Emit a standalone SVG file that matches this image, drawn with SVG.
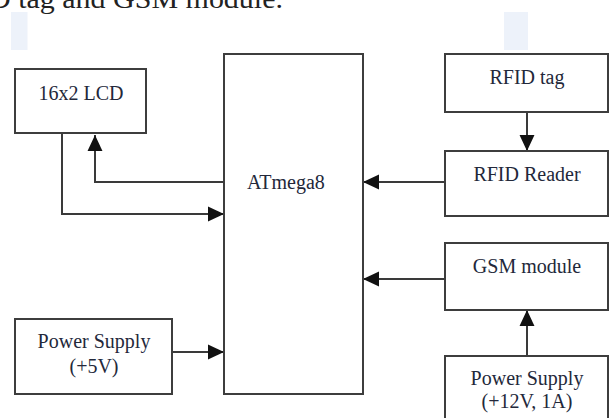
<svg xmlns="http://www.w3.org/2000/svg" width="614" height="418" viewBox="0 0 614 418">
<style>
.box{fill:#fff;stroke:#3d3d3d;stroke-width:2}
.lbl{font-family:"Liberation Serif","Times New Roman",serif;font-size:20px;fill:#23283a;text-anchor:middle}
.con{fill:none;stroke:#3a3a3a;stroke-width:2}
.hl{fill:#edf2fa}
</style>
<defs>
<marker id="ah" markerUnits="userSpaceOnUse" markerWidth="16" markerHeight="16" viewBox="0 0 15 14" refX="15" refY="7" orient="auto">
<path d="M0,0 L15,7 L0,14 z" fill="#111"/>
</marker>
</defs>
<rect width="614" height="418" fill="#fff"/>
<text x="-11" y="8" font-family="Liberation Serif, serif" font-size="27" fill="#222" textLength="294" lengthAdjust="spacingAndGlyphs">D tag and GSM module.</text>
<rect class="hl" x="11" y="12" width="16.5" height="38"/>
<rect class="hl" x="504" y="12" width="24" height="38"/>
<g id="connectors">
<path class="con" d="M224 182 H95 V135" marker-end="url(#ah)"/>
<path class="con" d="M62 133 V214 H224" marker-end="url(#ah)"/>
<path class="con" d="M445 182 H363" marker-end="url(#ah)"/>
<path class="con" d="M527 112 V151" marker-end="url(#ah)"/>
<path class="con" d="M445 279 H363" marker-end="url(#ah)"/>
<path class="con" d="M527 356 V310" marker-end="url(#ah)"/>
<path class="con" d="M172 352 H224" marker-end="url(#ah)"/>
</g>
<g id="lcd"><rect class="box" x="15" y="69" width="131" height="64"/><text class="lbl" x="81" y="100">16x2 LCD</text></g>
<g id="atmega"><rect class="box" x="224" y="54" width="139" height="340"/><text class="lbl" x="286" y="189">ATmega8</text></g>
<g id="rfid-tag"><rect class="box" x="445" y="54" width="163" height="58"/><text class="lbl" x="527" y="84">RFID tag</text></g>
<g id="rfid-reader"><rect class="box" x="445" y="151" width="163" height="65"/><text class="lbl" x="527" y="181">RFID Reader</text></g>
<g id="gsm"><rect class="box" x="445" y="243" width="163" height="67"/><text class="lbl" x="527" y="273">GSM module</text></g>
<g id="ps5"><rect class="box" x="15" y="319" width="157" height="75"/><text class="lbl" x="94" y="348">Power Supply</text><text class="lbl" x="94" y="373">(+5V)</text></g>
<g id="ps12"><rect class="box" x="445" y="356" width="163" height="70"/><text class="lbl" x="527" y="385">Power Supply</text><text class="lbl" x="527" y="408">(+12V, 1A)</text></g>
</svg>
